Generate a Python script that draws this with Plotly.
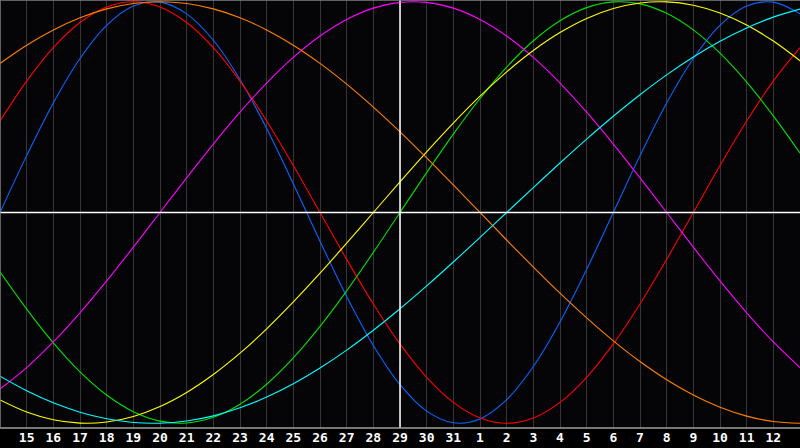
import plotly.graph_objects as go

# Calendar day of each daily sample (Jan 14 .. Feb 13)
day_labels = [14, 15, 16, 17, 18, 19, 20, 21, 22, 23, 24, 25, 26, 27, 28, 29, 30, 31,
              1, 2, 3, 4, 5, 6, 7, 8, 9, 10, 11, 12, 13]
today_index = 15  # the 29th

# Cycle values (-1..1), one per day
physical_23 = [0.0, 0.2698, 0.5197, 0.7308, 0.8879, 0.9791, 0.9977, 0.9423, 0.8170, 0.6311,
               0.3984, 0.1362, -0.1362, -0.3984, -0.6311, -0.8170, -0.9423, -0.9977, -0.9791,
               -0.8879, -0.7308, -0.5197, -0.2698, 0.0, 0.2698, 0.5197, 0.7308, 0.8879, 0.9791,
               0.9977, 0.9423]
emotional_28 = [0.4339, 0.6235, 0.7818, 0.9010, 0.9749, 1.0, 0.9749, 0.9010, 0.7818, 0.6235,
                0.4339, 0.2225, 0.0, -0.2225, -0.4339, -0.6235, -0.7818, -0.9010, -0.9749, -1.0,
                -0.9749, -0.9010, -0.7818, -0.6235, -0.4339, -0.2225, 0.0, 0.2225, 0.4339, 0.6235,
                0.7818]
intellectual_33 = [-0.2817, -0.4582, -0.6182, -0.7557, -0.8660, -0.9450, -0.9898, -0.9989,
                   -0.9718, -0.9096, -0.8146, -0.6901, -0.5406, -0.3717, -0.1893, 0.0, 0.1893,
                   0.3717, 0.5406, 0.6901, 0.8146, 0.9096, 0.9718, 0.9989, 0.9898, 0.9450, 0.8660,
                   0.7557, 0.6182, 0.4582, 0.2817]
intuitive_38 = [-0.8372, -0.7357, -0.6142, -0.4759, -0.3247, -0.1646, 0.0, 0.1646, 0.3247,
                0.4759, 0.6142, 0.7357, 0.8372, 0.9158, 0.9694, 0.9966, 0.9966, 0.9694, 0.9158,
                0.8372, 0.7357, 0.6142, 0.4759, 0.3247, 0.1646, 0.0, -0.1646, -0.3247, -0.4759,
                -0.6142, -0.7357]
aesthetic_43 = [-0.8893, -0.9464, -0.9834, -0.9993, -0.9940, -0.9675, -0.9203, -0.8535, -0.7686,
                -0.6673, -0.5518, -0.4244, -0.2881, -0.1456, 0.0, 0.1456, 0.2881, 0.4244, 0.5518,
                0.6673, 0.7686, 0.8535, 0.9203, 0.9675, 0.9940, 0.9993, 0.9834, 0.9464, 0.8893,
                0.8133, 0.7199]
awareness_48 = [0.7071, 0.7934, 0.8660, 0.9239, 0.9659, 0.9914, 1.0, 0.9914, 0.9659, 0.9239,
                0.8660, 0.7934, 0.7071, 0.6088, 0.5, 0.3827, 0.2588, 0.1305, 0.0, -0.1305,
                -0.2588, -0.3827, -0.5, -0.6088, -0.7071, -0.7934, -0.8660, -0.9239, -0.9659,
                -0.9914, -1.0]
spiritual_53 = [-0.7765, -0.8456, -0.9029, -0.9473, -0.9785, -0.9961, -0.9996, -0.9890, -0.9647,
                -0.9267, -0.8757, -0.8125, -0.7379, -0.6529, -0.5586, -0.4566, -0.3482, -0.2349,
                -0.1183, 0.0, 0.1183, 0.2349, 0.3482, 0.4566, 0.5586, 0.6529, 0.7379, 0.8125,
                0.8757, 0.9267, 0.9647]

series = [
    ("Physical", physical_23, "#0a64ff"),
    ("Emotional", emotional_28, "#ff0000"),
    ("Intellectual", intellectual_33, "#00e000"),
    ("Intuitive", intuitive_38, "#ff00ff"),
    ("Aesthetic", aesthetic_43, "#ffff00"),
    ("Awareness", awareness_48, "#ff8000"),
    ("Spiritual", spiritual_53, "#00ffff"),
]

x_idx = list(range(len(day_labels)))
tick_idx = x_idx[1:-1]
tick_text = [str(d) for d in day_labels[1:-1]]

fig = go.Figure()
for name, vals, col in series:
    fig.add_trace(go.Scatter(x=x_idx, y=vals, mode="lines", name=name,
                             line=dict(color=col, width=1.1, shape="spline"),
                             hoverinfo="skip"))

grid_col = "#363636"
fig.update_layout(
    width=800, height=448,
    margin=dict(l=0, r=0, t=0, b=20, pad=0),
    paper_bgcolor="#000000",
    plot_bgcolor="#050508",
    showlegend=False,
    xaxis=dict(range=[0, len(day_labels) - 1], tickmode="array", tickvals=tick_idx,
               ticktext=tick_text, showgrid=True, gridcolor=grid_col, gridwidth=1,
               zeroline=False, ticks="", ticklen=0,
               tickfont=dict(family="DejaVu Sans Mono", size=13, color="#ffffff", weight="bold"),
               fixedrange=True),
    yaxis=dict(range=[-1.0223, 1.008], showgrid=False, zeroline=False,
               showticklabels=False, fixedrange=True),
)

# Today marker and zero line
fig.add_shape(type="line", xref="x", yref="paper", x0=today_index, x1=today_index, y0=0, y1=1,
              line=dict(color="#ffffff", width=1.5))
fig.add_shape(type="line", xref="paper", yref="y", x0=0, x1=1, y0=0, y1=0,
              line=dict(color="#ffffff", width=1.5))
# Frame lines
fig.add_shape(type="line", xref="paper", yref="paper", x0=0, x1=1, y0=0, y1=0,
              line=dict(color="#a0a0a0", width=1.5))
fig.add_shape(type="line", xref="paper", yref="paper", x0=0, x1=1, y0=1, y1=1,
              line=dict(color="#808080", width=1.5))
fig.add_shape(type="line", xref="paper", yref="paper", x0=0, x1=0, y0=0, y1=1,
              line=dict(color="#808080", width=1.5))

fig.write_html("out.html", config={"displayModeBar": False}, post_script=[
    "document.body.style.margin='0';document.body.style.background='#000';"
    "document.documentElement.style.overflow='hidden';"
])
